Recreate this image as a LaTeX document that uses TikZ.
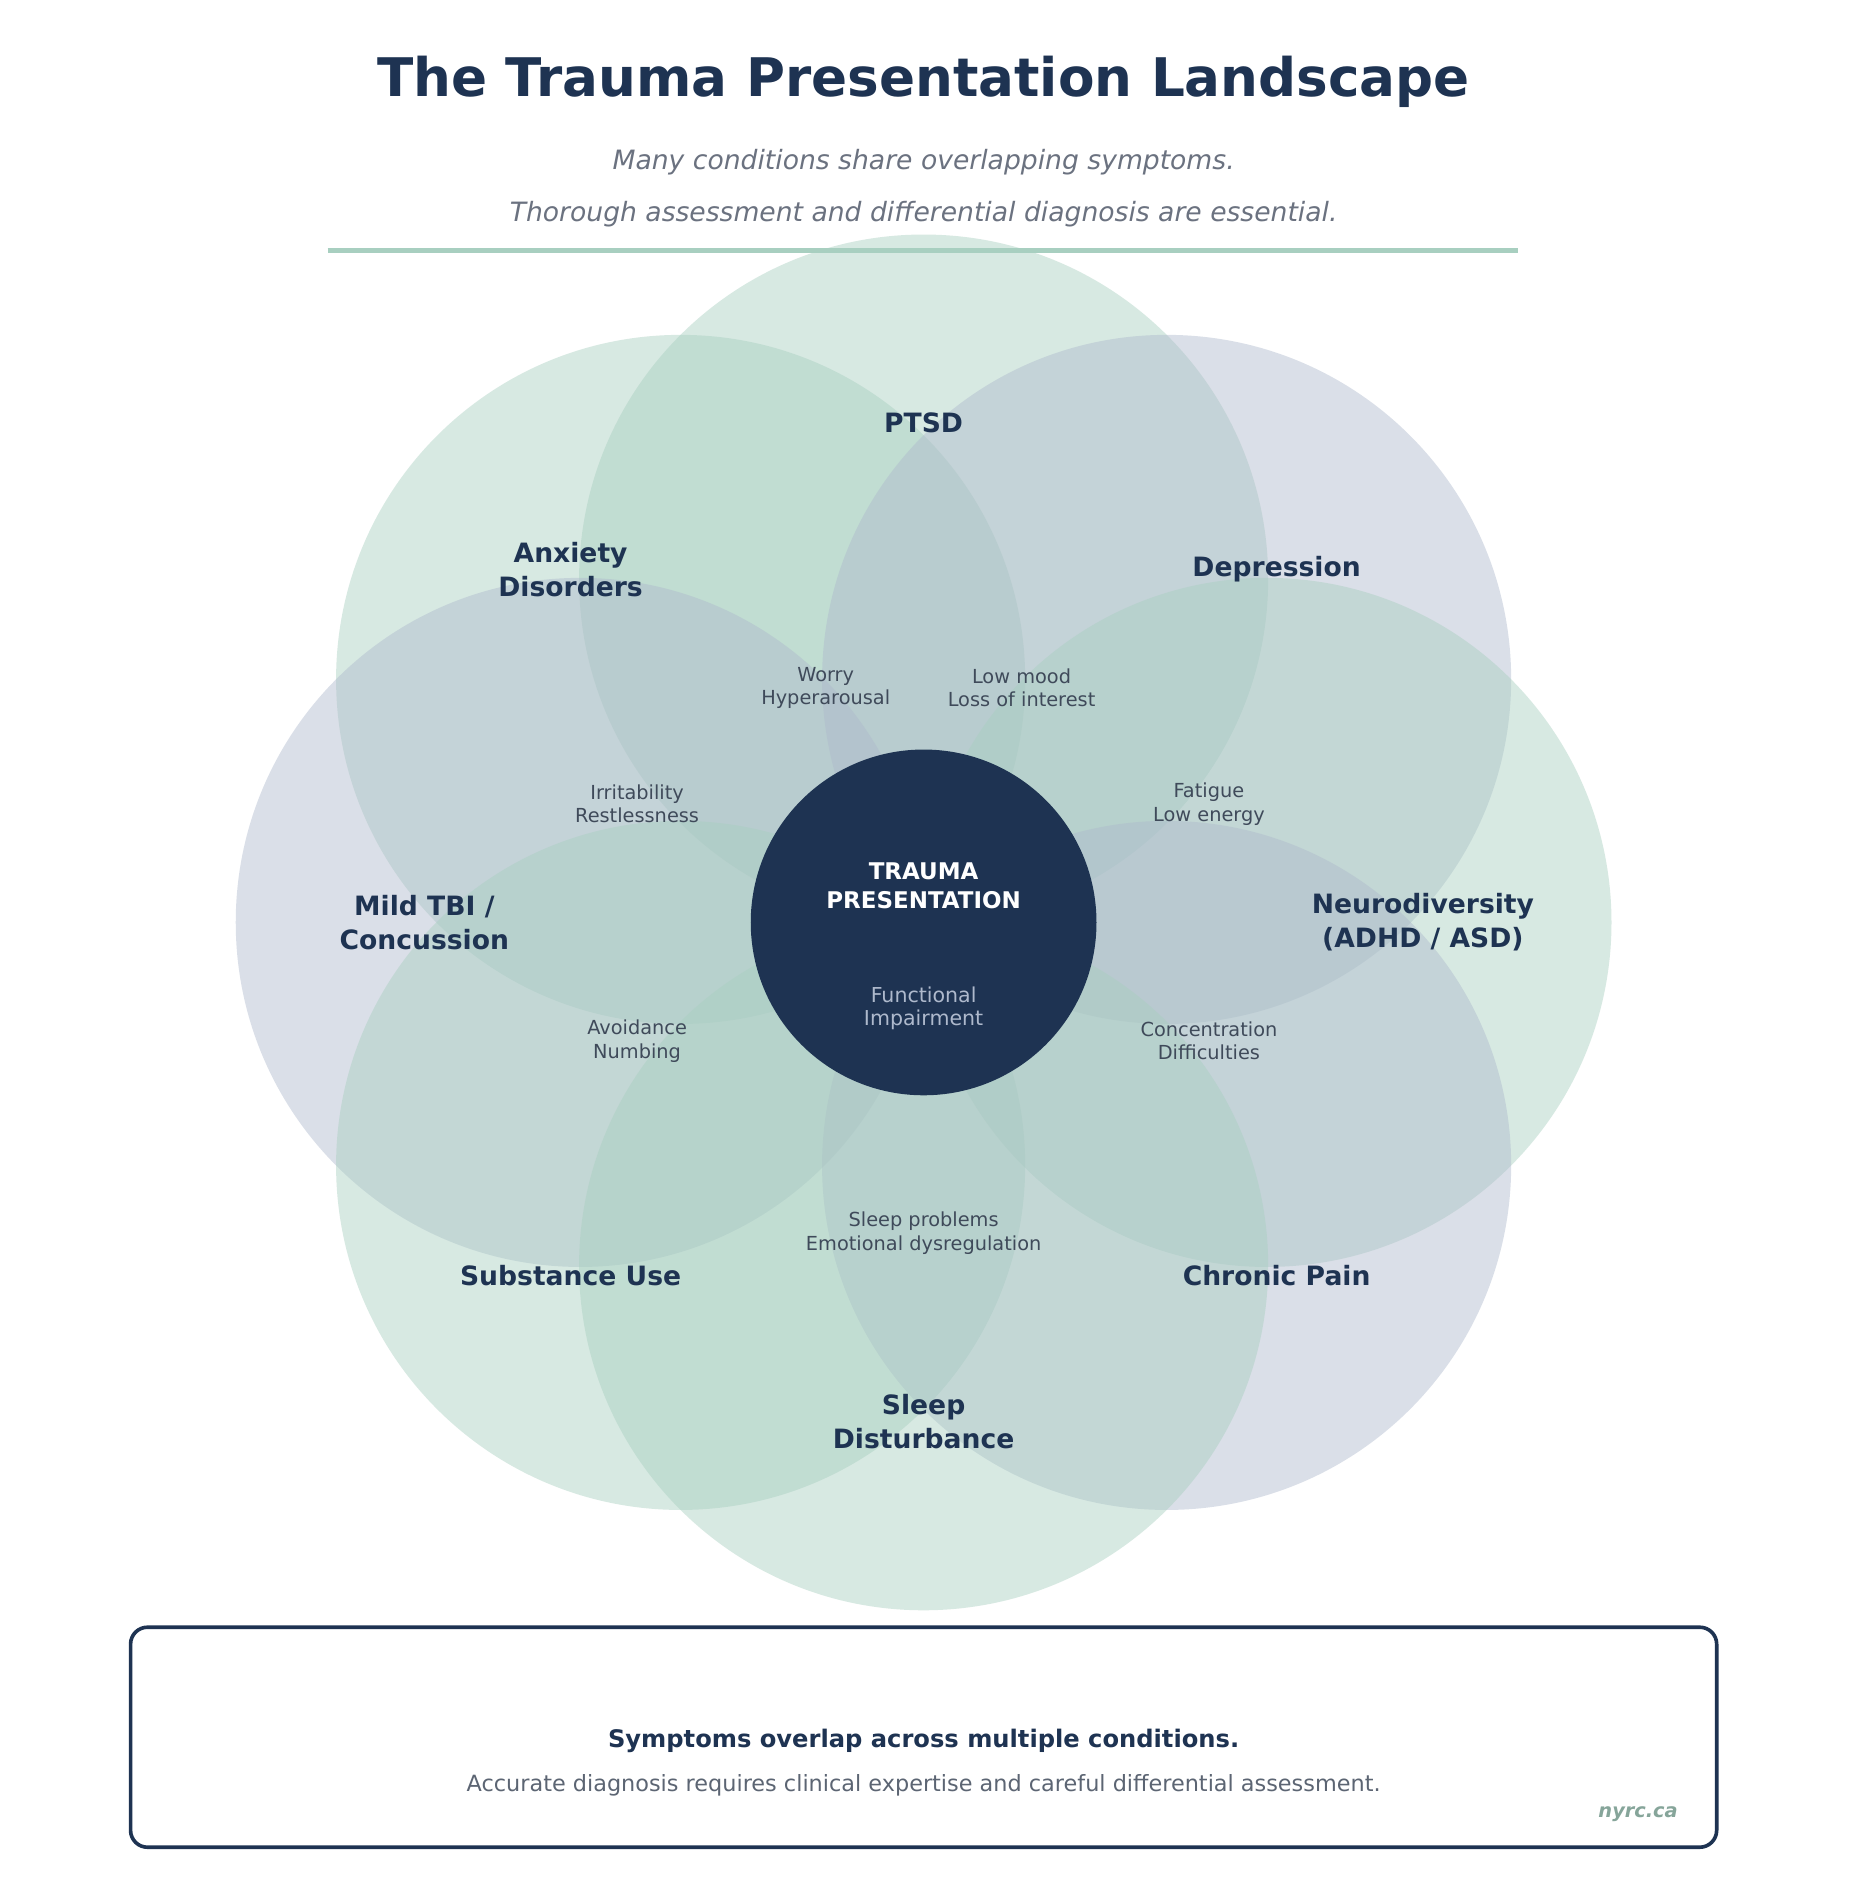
\documentclass[tikz,border=0pt]{standalone}
\usepackage{fontspec}
\setmainfont{DejaVu Sans}
\begin{document}
\definecolor{navy}{HTML}{1E3352}
\definecolor{sage}{HTML}{A8CFC0}
\definecolor{slate}{HTML}{AEB9CC}
\definecolor{sub}{HTML}{6B7280}
\definecolor{small}{HTML}{3F4A5A}
\begin{tikzpicture}[x=1pt,y=-1pt,
  big/.style={circle,minimum size=570pt,inner sep=0pt,fill opacity=0.45,draw=none},
  lab/.style={font=\fontsize{22}{28}\selectfont\bfseries,text=navy,align=center},
  sym/.style={font=\fontsize{16}{19.5}\selectfont,text=small,align=center}]
\useasboundingbox (0,0) rectangle (1530,1570);
\fill[white] (0,0) rectangle (1530,1570);
\node[big,fill=sage] (c1) at (764,479) {};
\node[big,fill=sage] (c2) at (563,562) {};
\node[big,fill=slate] (c3) at (965,562) {};
\node[big,fill=slate] (c4) at (480,763) {};
\node[big,fill=sage] (c5) at (1048,763) {};
\node[big,fill=sage] (c6) at (563,964) {};
\node[big,fill=slate] (c7) at (965,964) {};
\node[big,fill=sage] (c8) at (764,1047) {};
\node[font=\fontsize{44}{50}\selectfont\bfseries,text=navy] (t) at (764,68) {The Trauma Presentation Landscape};
\node[font=\fontsize{22}{26}\selectfont\itshape,text=sub] (s1) at (764,134) {Many conditions share overlapping symptoms.};
\node[font=\fontsize{22}{26}\selectfont\itshape,text=sub] (s2) at (764,177) {Thorough assessment and differential diagnosis are essential.};
\draw[sage,line width=4pt] (271,207) -- (1256,207);
\node[lab] (l1) at (764,350) {PTSD};
\node[lab] (l2) at (472,471) {Anxiety\\Disorders};
\node[lab] (l3) at (1056,471) {Depression};
\node[lab] (l4) at (351,763) {Mild TBI /\\Concussion};
\node[lab] (l5) at (1177,763) {Neurodiversity\\(ADHD / ASD)};
\node[lab] (l6) at (472,1055) {Substance Use};
\node[lab] (l7) at (1056,1055) {Chronic Pain};
\node[lab] (l8) at (764,1176) {Sleep\\Disturbance};
\node[sym] at (683,569) {Worry\\Hyperarousal};
\node[sym] at (845,569) {Low mood\\Loss of interest};
\node[sym] at (527,665) {Irritability\\Restlessness};
\node[sym] at (1000,665) {Fatigue\\Low energy};
\node[sym] at (527,861) {Avoidance\\Numbing};
\node[sym] at (1000,861) {Concentration\\Difficulties};
\node[sym] at (764,1020) {Sleep problems\\Emotional dysregulation};
\node[circle,fill=navy,minimum size=286pt,inner sep=0pt] (core) at (764,763) {};
\node[font=\fontsize{19}{24}\selectfont\bfseries,text=white,align=center] at (764,733) {TRAUMA\\PRESENTATION};
\node[font=\fontsize{17}{19}\selectfont,text=slate,align=center] at (764,834) {Functional\\Impairment};
\draw[navy,line width=3pt,rounded corners=14pt] (108,1346) rectangle (1420,1528);
\node[font=\fontsize{20}{24}\selectfont\bfseries,text=navy] at (764,1440) {Symptoms overlap across multiple conditions.};
\node[font=\fontsize{18.5}{22}\selectfont,text=small!85] at (764,1477) {Accurate diagnosis requires clinical expertise and careful differential assessment.};
\node[font=\fontsize{16}{19}\selectfont\bfseries\itshape,text=sage!80!black] at (1355,1501) {nyrc.ca};
\end{tikzpicture}
\end{document}
